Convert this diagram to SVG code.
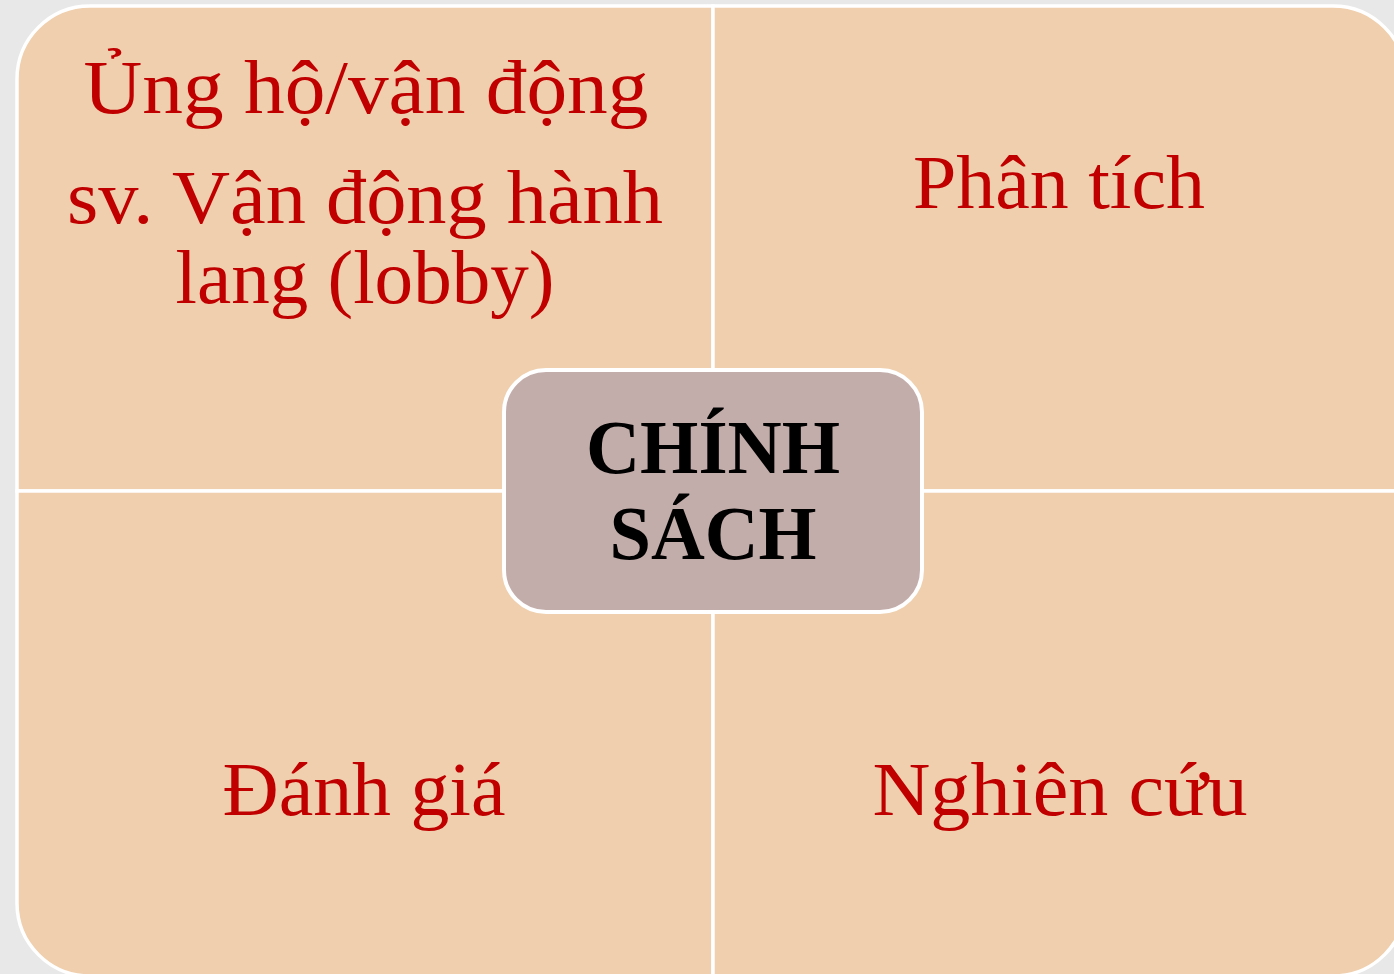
<svg xmlns="http://www.w3.org/2000/svg" width="1394" height="974" viewBox="0 0 1394 974">
  <style>
    .quad { fill: #EFCFAD; stroke: #FFFFFF; stroke-width: 3.5; }
    .lbl { font-family: "Liberation Serif", "DejaVu Serif", serif; font-size: 77px; fill: #C00000; text-anchor: middle; }
    .center-box { fill: #C3ADAB; stroke: #FFFFFF; stroke-width: 4; }
    .center-lbl { font-family: "Liberation Serif", "DejaVu Serif", serif; font-size: 76px; font-weight: bold; fill: #000000; text-anchor: middle; }
  </style>
  <rect x="0" y="0" width="1394" height="974" fill="#E8E8E8"/>

  <g id="quad-advocacy">
    <path class="quad" d="M17,79 A73,73 0 0 1 90,6 L713,6 L713,491 L17,491 Z"/>
    <text class="lbl" x="366" y="113" textLength="565" lengthAdjust="spacingAndGlyphs">Ủng hộ/vận động</text>
    <text class="lbl" x="365" y="223" textLength="596" lengthAdjust="spacingAndGlyphs">sv. Vận động hành</text>
    <text class="lbl" x="365" y="303" textLength="379" lengthAdjust="spacingAndGlyphs">lang (lobby)</text>
  </g>

  <g id="quad-analysis">
    <path class="quad" d="M713,6 L1333,6 A73,73 0 0 1 1406,79 L1406,491 L713,491 Z"/>
    <text class="lbl" x="1059" y="208" textLength="292" lengthAdjust="spacingAndGlyphs">Phân tích</text>
  </g>

  <g id="quad-evaluation">
    <path class="quad" d="M17,491 L713,491 L713,976 L90,976 A73,73 0 0 1 17,903 Z"/>
    <text class="lbl" x="364" y="815" textLength="283" lengthAdjust="spacingAndGlyphs">Đánh giá</text>
  </g>

  <g id="quad-research">
    <path class="quad" d="M713,491 L1406,491 L1406,903 A73,73 0 0 1 1333,976 L713,976 Z"/>
    <text class="lbl" x="1060" y="815" textLength="375" lengthAdjust="spacingAndGlyphs">Nghiên cứu</text>
  </g>

  <g id="connectors"></g>

  <g id="center-policy">
    <rect class="center-box" x="504" y="370" width="418" height="242" rx="42" ry="42"/>
    <text class="center-lbl" x="713" y="473" textLength="254" lengthAdjust="spacingAndGlyphs">CHÍNH</text>
    <text class="center-lbl" x="713" y="559" textLength="207" lengthAdjust="spacingAndGlyphs">SÁCH</text>
  </g>
</svg>
